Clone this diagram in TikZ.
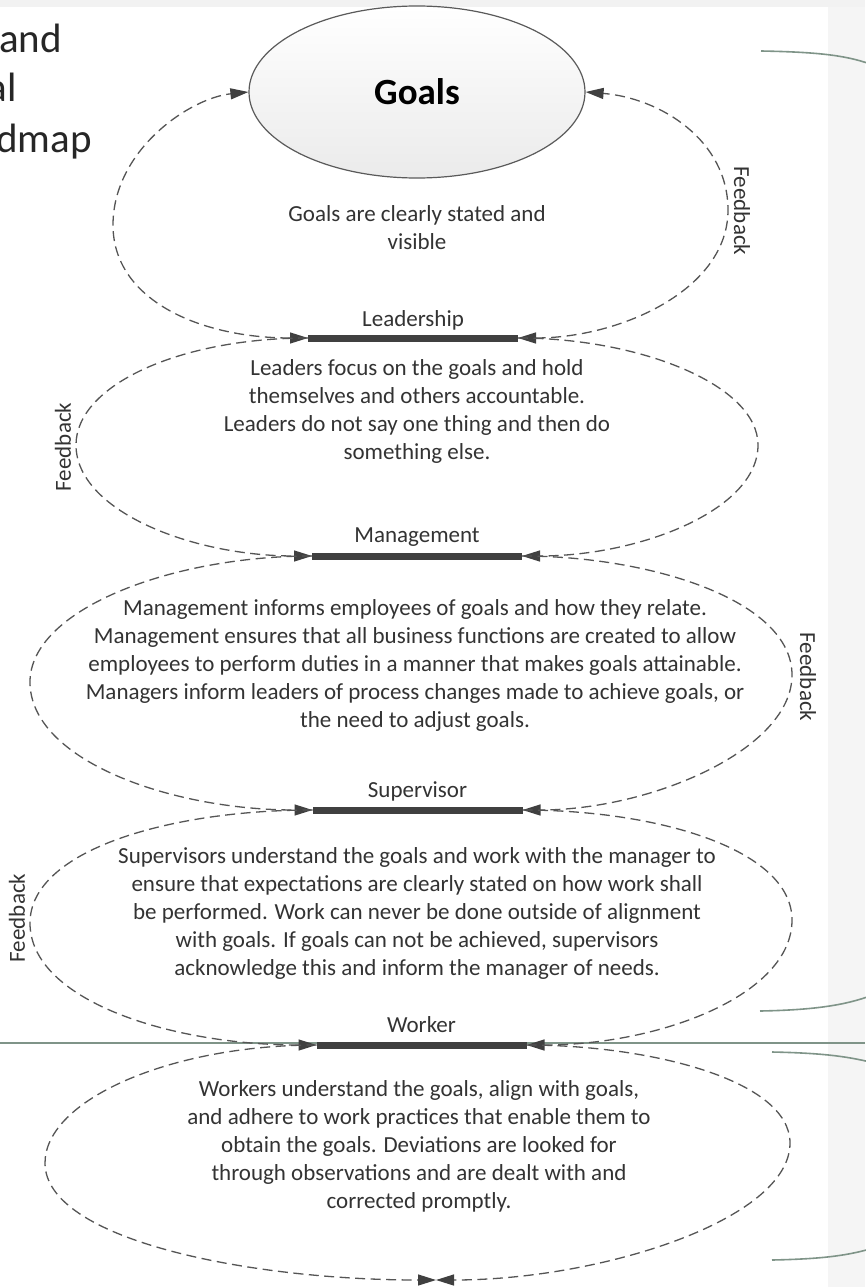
\documentclass[tikz,border=0pt]{standalone}
\usepackage{fontspec}
\setmainfont{Carlito}
\usetikzlibrary{arrows.meta,shapes.geometric}
\definecolor{dashgray}{HTML}{555555}
\definecolor{bargray}{HTML}{404040}
\definecolor{txtgray}{HTML}{333333}
\definecolor{framegreen}{HTML}{7F9488}
\definecolor{edgegray}{HTML}{5A5A5A}
\begin{document}
\begin{tikzpicture}[x=1pt,y=-1pt,
  loopline/.style={draw=dashgray, line width=1.3pt, dash pattern=on 10pt off 5.5pt},
  tipboth/.style={{Triangle[length=18pt,width=11pt,color=bargray]}-{Triangle[length=18pt,width=11pt,color=bargray]}},
  tipend/.style={-{Triangle[length=18pt,width=11pt,color=bargray]}},
  bodytext/.style={font=\fontsize{23}{28}\selectfont, text=txtgray, align=center, inner sep=0pt},
  barnode/.style={rectangle, fill=bargray, minimum width=210pt, minimum height=7pt, inner sep=0pt, outer sep=0pt},
  fbtext/.style={font=\fontsize{23}{28}\selectfont, text=txtgray, inner sep=0pt},
  frameline/.style={draw=framegreen, line width=1.6pt},
  slidetext/.style={font=\fontsize{41}{50}\selectfont, text=black!85, inner sep=0pt, anchor=base east}]
\useasboundingbox (0,0) rectangle (865,1287);
\fill[white] (0,0) rectangle (865,1287);
\fill[black!5] (0,0) rectangle (865,7);
\fill[black!4] (828,7) rectangle (865,1287);

% slide text fragments
\node[slidetext] (s1) at (62,53) {and};
\node[slidetext] (s2) at (17,102) {al};
\node[slidetext] (s3) at (92,153) {dmap};

% frame lines on the right
\draw[frameline] (761,51) .. controls (815,52) and (845,55) .. (870,64);
\draw[frameline] (760,1011) .. controls (815,1010) and (845,1005) .. (870,996);
\draw[frameline] (0,1043) -- (865,1043);
\draw[frameline] (772,1052) .. controls (820,1053) and (845,1056) .. (870,1062);
\draw[frameline] (772,1260) .. controls (820,1259) and (845,1256) .. (870,1249);

% goals ellipse
\node[ellipse, minimum width=336pt, minimum height=172pt, inner sep=0pt,
      draw=edgegray, line width=1.2pt, top color=white, bottom color=black!8,
      font=\fontsize{37}{44}\selectfont\bfseries, text=black] (goals) at (417,92) {Goals};

% bars
\node[barnode] (lead) at (413,338) {};
\node[barnode] (mgmt) at (417,556) {};
\node[barnode] (sup) at (417.5,810) {};
\node[barnode] (work) at (421.5,1045) {};
\coordinate (bot) at (436,1280);

% bar labels
\node[bodytext] (leadlbl) at (413,320) {Leadership};
\node[bodytext] (mgmtlbl) at (417,537) {Management};
\node[bodytext] (suplbl) at (417.5,791) {Supervisor};
\node[bodytext] (worklbl) at (421.5,1025) {Worker};

% texts
\node[bodytext] (goalstxt) at (417,228) {Goals are clearly stated and\\visible};
\node[bodytext] (leadtxt) at (417,411) {Leaders focus on the goals and hold\\themselves and others accountable.\\Leaders do not say one thing and then do\\something else.};
\node[bodytext] (mgmttxt) at (415,665) {Management informs employees of goals and how they relate.\\Management ensures that all business functions are created to allow\\employees to perform duties in a manner that makes goals attainable.\\Managers inform leaders of process changes made to achieve goals, or\\the need to adjust goals.};
\node[bodytext] (suptxt) at (417,913) {Supervisors understand the goals and work with the manager to\\ensure that expectations are clearly stated on how work shall\\be performed. Work can never be done outside of alignment\\with goals. If goals can not be achieved, supervisors\\acknowledge this and inform the manager of needs.};
\node[bodytext] (worktxt) at (419,1146) {Workers understand the goals, align with goals,\\and adhere to work practices that enable them to\\obtain the goals. Deviations are looked for\\through observations and are dealt with and\\corrected promptly.};

% feedback labels
\node[fbtext, rotate=-90] (fb1) at (742,211) {Feedback};
\node[fbtext, rotate=90] (fb2) at (63,447) {Feedback};
\node[fbtext, rotate=-90] (fb3) at (808,677) {Feedback};
\node[fbtext, rotate=90] (fb4) at (17,918) {Feedback};

% loops
\draw[loopline, tipboth] (lead.west) .. controls (200,338) and (113,300) .. (113,225) .. controls (113,150) and (190,98) .. (goals.west);
\draw[loopline, tipboth] (lead.east) .. controls (620,338) and (728,290) .. (728,210) .. controls (728,140) and (660,98) .. (goals.east);

\draw[loopline, tipend] (lead.west) .. controls (180,338) and (76,385) .. (76,445) .. controls (76,510) and (190,556) .. (mgmt.west);
\draw[loopline, tipend] (lead.east) .. controls (640,338) and (758,385) .. (758,445) .. controls (758,510) and (640,556) .. (mgmt.east);

\draw[loopline, tipend] (mgmt.west) .. controls (170,556) and (30,610) .. (30,682) .. controls (30,760) and (170,810) .. (sup.west);
\draw[loopline, tipend] (mgmt.east) .. controls (650,556) and (792,600) .. (792,675) .. controls (792,750) and (650,810) .. (sup.east);

\draw[loopline, tipend] (sup.west) .. controls (170,810) and (30,850) .. (30,923) .. controls (30,1000) and (170,1045) .. (work.west);
\draw[loopline, tipend] (sup.east) .. controls (660,810) and (792,850) .. (792,920) .. controls (792,995) and (660,1045) .. (work.east);

\draw[loopline, tipend] (work.west) .. controls (170,1045) and (45,1100) .. (45,1163) .. controls (45,1240) and (250,1280) .. (bot);
\draw[loopline, tipend] (work.east) .. controls (650,1045) and (790,1080) .. (790,1143) .. controls (790,1220) and (600,1280) .. (bot);
\end{tikzpicture}
\end{document}
